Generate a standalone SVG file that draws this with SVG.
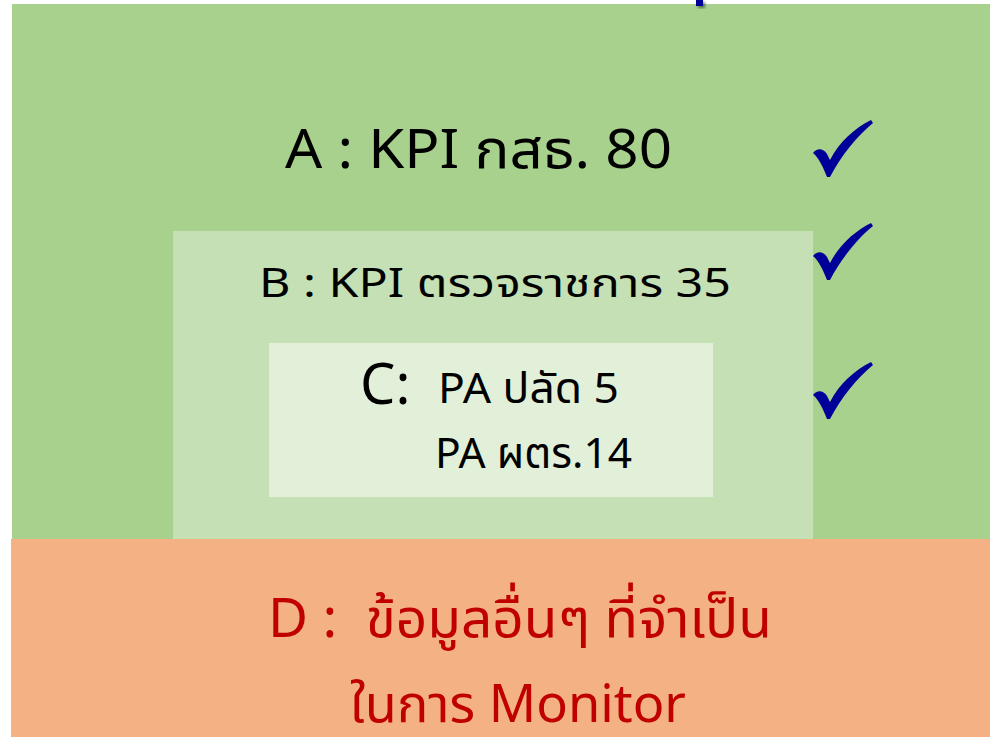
<svg xmlns="http://www.w3.org/2000/svg" width="990" height="738" viewBox="0 0 990 738">
  <defs>
    <style>
      .t { font-family: "Noto Sans", "Noto Sans Thai", "DejaVu Sans", sans-serif; }
      .blk { fill: #000000; }
      .red { fill: #C00000; }
      .chk { fill: #000099; }
    </style>
    <path id="check" d="M0,33 C4,28 10,28 14,34 L17,40 C26,22 42,8 58,0 L60,3 C44,16 28,36 17,57 L14,57 C10,47 6,38 0,33 Z"/>
    <filter id="sh" x="-50%" y="-50%" width="200%" height="200%">
      <feDropShadow dx="2" dy="2" stdDeviation="1.5" flood-color="#000" flood-opacity="0.5"/>
    </filter>
  </defs>
  <rect width="990" height="738" fill="#ffffff"/>

  <g id="nodeA">
    <rect x="12" y="4" width="978" height="536" fill="#A9D18E"/>
    <text class="t blk" x="285" y="168" font-size="54" textLength="387" lengthAdjust="spacingAndGlyphs">A : KPI กสธ. 80</text>
  </g>

  <g id="nodeB">
    <rect x="173" y="231" width="640" height="309" fill="#C5E0B4"/>
    <text class="t blk" x="259" y="297" font-size="40" textLength="472" lengthAdjust="spacingAndGlyphs">B : KPI ตรวจราชการ 35</text>
  </g>

  <g id="nodeC">
    <rect x="269" y="343" width="444" height="154" fill="#E2F0D9"/>
    <text class="t blk" x="360" y="404" font-size="56">C:</text>
    <text class="t blk" x="438" y="403" font-size="42" textLength="181" lengthAdjust="spacingAndGlyphs">PA ปลัด 5</text>
    <text class="t blk" x="435" y="468" font-size="42" textLength="197" lengthAdjust="spacingAndGlyphs">PA ผตร.14</text>
  </g>

  <g id="nodeD">
    <rect x="11" y="539" width="979" height="198" fill="#F4B183"/>
    <text class="t red" x="268" y="637" font-size="54" textLength="504" lengthAdjust="spacingAndGlyphs" xml:space="preserve">D :  ข้อมูลอื่นๆ ที่จำเป็น</text>
    <text class="t red" x="350" y="722" font-size="52" textLength="336" lengthAdjust="spacingAndGlyphs">ในการ Monitor</text>
  </g>

  <g id="marks">
    <rect x="696" y="0" width="7" height="6" fill="#000099" filter="url(#sh)"/>
    <use href="#check" class="chk" x="813" y="120"/>
    <use href="#check" class="chk" x="813" y="223"/>
    <use href="#check" class="chk" x="813" y="362"/>
  </g>

  <g id="connectors"></g>
</svg>
